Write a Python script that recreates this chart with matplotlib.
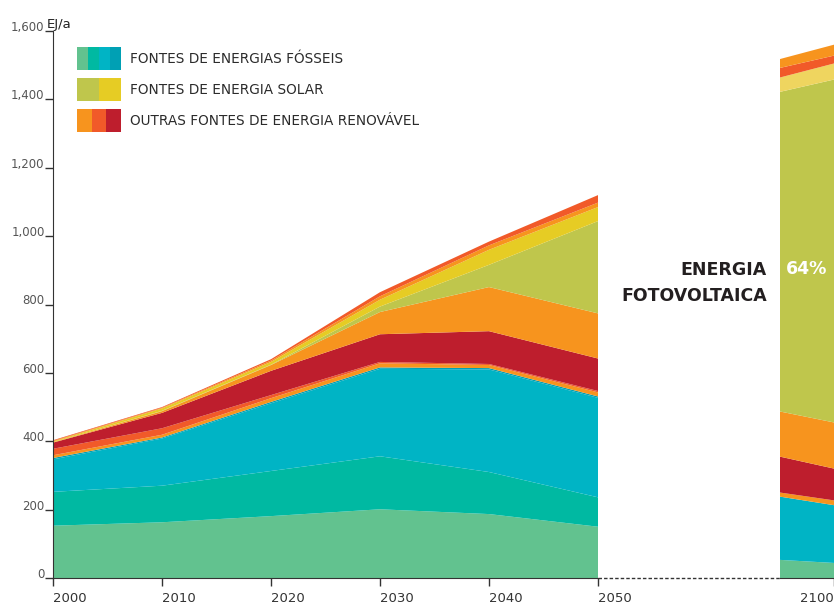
import numpy as np
from matplotlib import pyplot as plt
from matplotlib.patches import Rectangle

# years on the main part and values of each layer (EJ/a), bottom to top
years = [2000, 2010, 2020, 2030, 2040, 2050]
fossil_1 = [153, 163, 181, 201, 187, 150]
fossil_2 = [99, 107, 132, 155, 123, 86]
fossil_3 = [95, 138, 198, 256, 300, 291]
fossil_4 = [4, 3, 4, 4, 4, 4]
renew_orange_low = [8, 8, 11, 12, 9, 12]
renew_redorange_low = [19, 19, 9, 4, 3, 4]
renew_red = [18, 45, 71, 81, 96, 95]
renew_orange = [1, 5, 17, 65, 129, 132]
solar_pv = [0, 1, 1, 16, 65, 270]
solar_thermal = [2, 7, 8, 20, 44, 41]
renew_orange_top = [2, 2, 4, 10, 13, 13]
renew_redorange_top = [2, 2, 4, 12, 11, 22]

# the 2100 part at the right edge
years_2100 = [2095, 2100]
fossil_1_2100 = [53, 44]
fossil_3_2100 = [185, 169]
renew_orange_low_2100 = [12, 14]
renew_red_2100 = [105, 93]
renew_orange_2100 = [132, 135]
solar_pv_2100 = [935, 1003]
solar_thermal_2100 = [42, 47]
renew_redorange_top_2100 = [28, 23]
renew_orange_top_2100 = [26, 32]

yticks = [0, 200, 400, 600, 800, 1000, 1200, 1400, 1600]
ytick_labels = ["0", "200", "400", "600", "800", "1,000", "1,200", "1,400", "1,600"]

legend_names = ["FONTES DE ENERGIAS FÓSSEIS", "FONTES DE ENERGIA SOLAR",
                "OUTRAS FONTES DE ENERGIA RENOVÁVEL"]

GREEN = "#62c28f"
TEAL = "#00b9a2"
CYAN = "#00b4c5"
DCYAN = "#00a0b4"
ORANGE = "#f7941e"
RORANGE = "#f15a29"
RED = "#be1e2d"
OLIVE = "#bfc64c"
YELLOW = "#e6cc24"
PALE = "#efd55f"
legend_colors = [[GREEN, TEAL, CYAN, DCYAN], [OLIVE, YELLOW], [ORANGE, RORANGE, RED]]

W, H = 834, 608
fig = plt.figure(figsize=(W / 100, H / 100), dpi=100)

x0, x_break, x_end = 53, 780, 834
y0, y_top = 578, 31
px_per_year = (598 - 53) / 50.0

ax = fig.add_axes([x0 / W, (H - y0) / H, (x_break - x0) / W, (y0 - y_top) / H])
ax.stackplot(years, fossil_1, fossil_2, fossil_3, fossil_4,
             renew_orange_low, renew_redorange_low, renew_red, renew_orange,
             solar_pv, solar_thermal, renew_orange_top, renew_redorange_top,
             colors=[GREEN, TEAL, CYAN, DCYAN, ORANGE, RORANGE, RED, ORANGE,
                     OLIVE, YELLOW, ORANGE, RORANGE],
             linewidth=0)
xmax = 2000 + (x_break - x0) / px_per_year
ax.set_xlim(2000, xmax)
ax.set_ylim(0, 1600)
for s in ["top", "right"]:
    ax.spines[s].set_visible(False)
ax.spines["left"].set_color("#333333")
ax.spines["bottom"].set_color("#333333")
ax.spines["bottom"].set_bounds(2000, 2050)
ax.plot([2050, xmax], [0, 0], color="#333333", lw=1, ls=(0, (2.5, 1.5)), clip_on=False)

ax.set_yticks(yticks)
ax.set_yticklabels(ytick_labels)
ax.tick_params(axis="y", direction="out", length=6, width=1, color="#333333",
               pad=0, labelsize=8.5, labelcolor="#555555")
for lab in ax.get_yticklabels():
    lab.set_va("baseline")
ax.set_xticks(years)
ax.set_xticklabels([str(y) for y in years])
ax.tick_params(axis="x", direction="out", length=6, width=1, color="#333333",
               pad=4, labelsize=9.5, labelcolor="#333333")
for lab in ax.get_xticklabels():
    lab.set_ha("left")

ax.text(-6 / (x_break - x0), 1.0, "EJ/a", transform=ax.transAxes, ha="left",
        va="bottom", fontsize=9.5, color="#222222")

# legend blocks
for i, (cols, name) in enumerate(zip(legend_colors, legend_names)):
    top = 47 + i * 31
    sw = 44 / len(cols)
    for j, c in enumerate(cols):
        fig.patches.append(Rectangle(((77 + j * sw) / W, (H - top - 23) / H), sw / W, 23 / H,
                                     transform=fig.transFigure, color=c, lw=0))
    fig.text(130 / W, (H - top - 12) / H, name, ha="left", va="center",
             fontsize=9.8, color="#2b2b2b")

# 2100 part
ax2 = fig.add_axes([x_break / W, (H - y0) / H, (x_end - x_break) / W, (y0 - y_top) / H])
ax2.stackplot(years_2100, fossil_1_2100, fossil_3_2100, renew_orange_low_2100,
              renew_red_2100, renew_orange_2100, solar_pv_2100, solar_thermal_2100,
              renew_redorange_top_2100, renew_orange_top_2100,
              colors=[GREEN, CYAN, ORANGE, RED, ORANGE, OLIVE, PALE, RORANGE, ORANGE],
              linewidth=0)
ax2.set_xlim(2095, 2100)
ax2.set_ylim(0, 1600)
for s in ["top", "right", "left"]:
    ax2.spines[s].set_visible(False)
ax2.spines["bottom"].set_color("#333333")
ax2.set_yticks([])
ax2.set_xticks([2100])
ax2.set_xticklabels(["2100"])
ax2.tick_params(axis="x", direction="out", length=6, width=1, color="#333333",
                pad=4, labelsize=9.5, labelcolor="#333333")
for lab in ax2.get_xticklabels():
    lab.set_ha("right")

fig.text(767 / W, (H - 270) / H, "ENERGIA", ha="right", va="center",
         fontsize=12.5, fontweight="bold", color="#231f20")
fig.text(767 / W, (H - 296) / H, "FOTOVOLTAICA", ha="right", va="center",
         fontsize=12.5, fontweight="bold", color="#231f20")
fig.text(786 / W, (H - 269) / H, "64%", ha="left", va="center",
         fontsize=12.5, fontweight="bold", color="white")

plt.savefig("out.png", dpi=100)
